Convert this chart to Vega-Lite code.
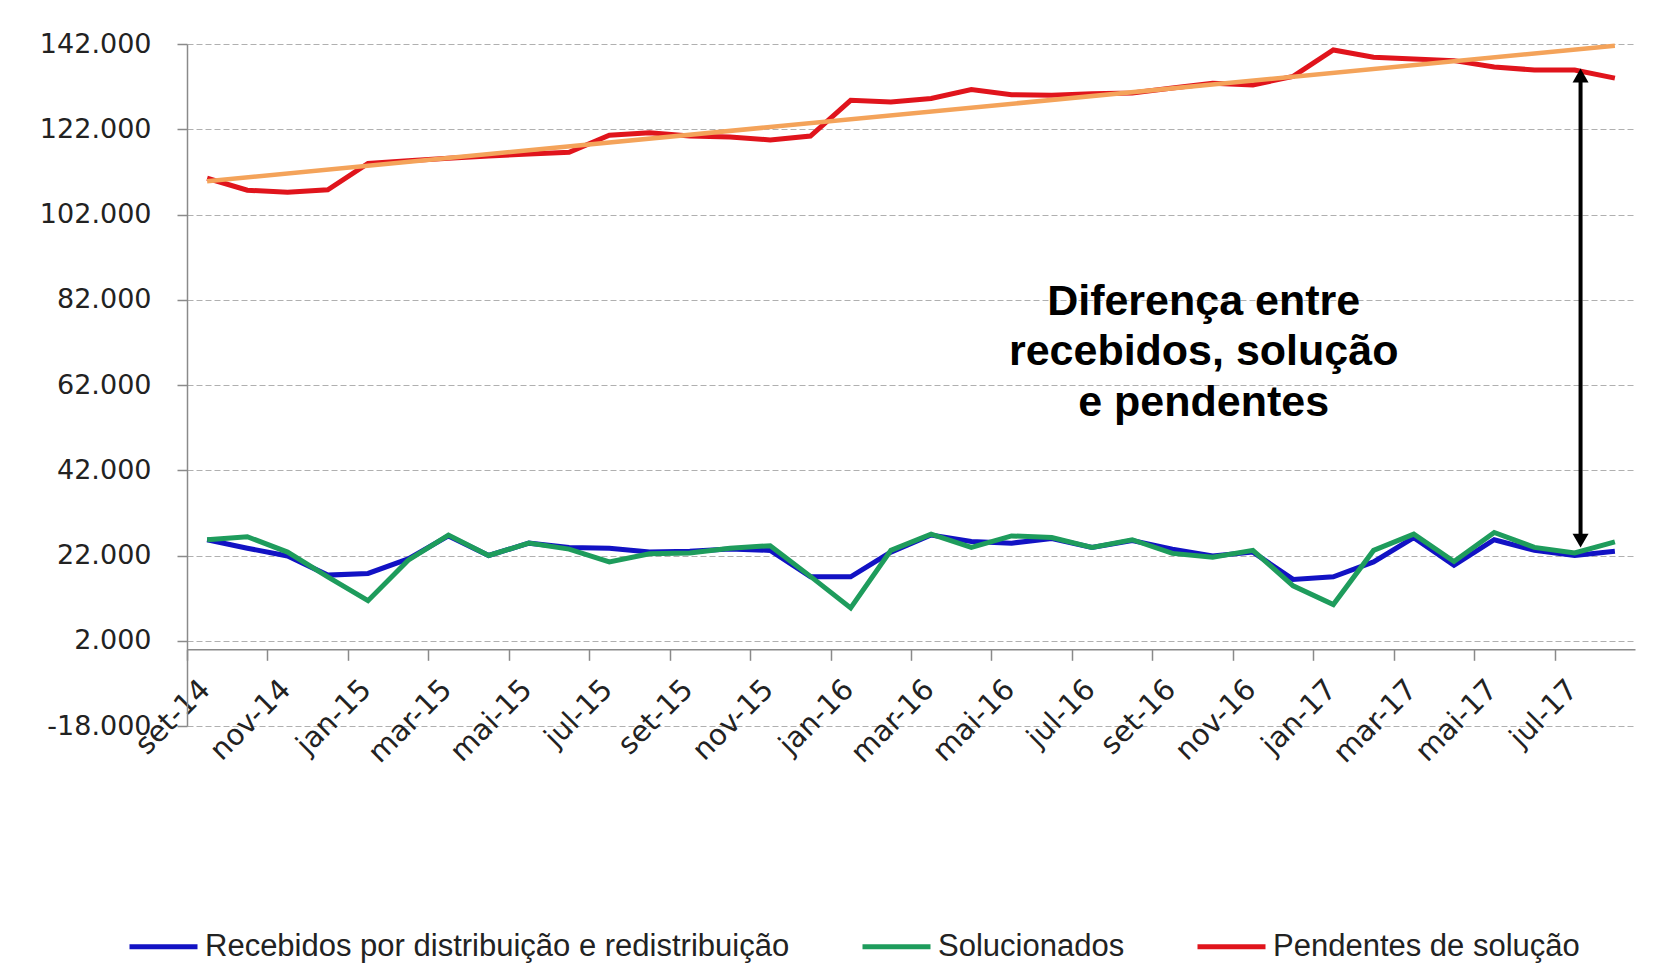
{
  "$schema": "https://vega.github.io/schema/vega-lite/v6.json",
  "width": 1448,
  "height": 682,
  "autosize": {"type": "none"},
  "padding": {"left": 187, "top": 44, "right": 20, "bottom": 252},
  "background": "white",
  "config": {"view": {"stroke": null}},
  "datasets": {
    "series": [
      {"month": "set-14", "serie": "Recebidos por distribuição e redistribuição", "value": 25700},
      {"month": "out-14", "serie": "Recebidos por distribuição e redistribuição", "value": 23700},
      {"month": "nov-14", "serie": "Recebidos por distribuição e redistribuição", "value": 21900},
      {"month": "dez-14", "serie": "Recebidos por distribuição e redistribuição", "value": 17400},
      {"month": "jan-15", "serie": "Recebidos por distribuição e redistribuição", "value": 17800},
      {"month": "fev-15", "serie": "Recebidos por distribuição e redistribuição", "value": 21200},
      {"month": "mar-15", "serie": "Recebidos por distribuição e redistribuição", "value": 26600},
      {"month": "abr-15", "serie": "Recebidos por distribuição e redistribuição", "value": 22000},
      {"month": "mai-15", "serie": "Recebidos por distribuição e redistribuição", "value": 24900},
      {"month": "jun-15", "serie": "Recebidos por distribuição e redistribuição", "value": 23900},
      {"month": "jul-15", "serie": "Recebidos por distribuição e redistribuição", "value": 23700},
      {"month": "ago-15", "serie": "Recebidos por distribuição e redistribuição", "value": 22800},
      {"month": "set-15", "serie": "Recebidos por distribuição e redistribuição", "value": 23000},
      {"month": "out-15", "serie": "Recebidos por distribuição e redistribuição", "value": 23500},
      {"month": "nov-15", "serie": "Recebidos por distribuição e redistribuição", "value": 23200},
      {"month": "dez-15", "serie": "Recebidos por distribuição e redistribuição", "value": 17000},
      {"month": "jan-16", "serie": "Recebidos por distribuição e redistribuição", "value": 17000},
      {"month": "fev-16", "serie": "Recebidos por distribuição e redistribuição", "value": 22800},
      {"month": "mar-16", "serie": "Recebidos por distribuição e redistribuição", "value": 26800},
      {"month": "abr-16", "serie": "Recebidos por distribuição e redistribuição", "value": 25300},
      {"month": "mai-16", "serie": "Recebidos por distribuição e redistribuição", "value": 24900},
      {"month": "jun-16", "serie": "Recebidos por distribuição e redistribuição", "value": 26000},
      {"month": "jul-16", "serie": "Recebidos por distribuição e redistribuição", "value": 23900},
      {"month": "ago-16", "serie": "Recebidos por distribuição e redistribuição", "value": 25500},
      {"month": "set-16", "serie": "Recebidos por distribuição e redistribuição", "value": 23500},
      {"month": "out-16", "serie": "Recebidos por distribuição e redistribuição", "value": 21900},
      {"month": "nov-16", "serie": "Recebidos por distribuição e redistribuição", "value": 22800},
      {"month": "dez-16", "serie": "Recebidos por distribuição e redistribuição", "value": 16400},
      {"month": "jan-17", "serie": "Recebidos por distribuição e redistribuição", "value": 17000},
      {"month": "fev-17", "serie": "Recebidos por distribuição e redistribuição", "value": 20500},
      {"month": "mar-17", "serie": "Recebidos por distribuição e redistribuição", "value": 26200},
      {"month": "abr-17", "serie": "Recebidos por distribuição e redistribuição", "value": 19700},
      {"month": "mai-17", "serie": "Recebidos por distribuição e redistribuição", "value": 25700},
      {"month": "jun-17", "serie": "Recebidos por distribuição e redistribuição", "value": 23200},
      {"month": "jul-17", "serie": "Recebidos por distribuição e redistribuição", "value": 22000},
      {"month": "ago-17", "serie": "Recebidos por distribuição e redistribuição", "value": 23000},
      {"month": "set-14", "serie": "Solucionados", "value": 25700},
      {"month": "out-14", "serie": "Solucionados", "value": 26400},
      {"month": "nov-14", "serie": "Solucionados", "value": 22800},
      {"month": "dez-14", "serie": "Solucionados", "value": 17000},
      {"month": "jan-15", "serie": "Solucionados", "value": 11400},
      {"month": "fev-15", "serie": "Solucionados", "value": 20900},
      {"month": "mar-15", "serie": "Solucionados", "value": 26800},
      {"month": "abr-15", "serie": "Solucionados", "value": 22000},
      {"month": "mai-15", "serie": "Solucionados", "value": 24900},
      {"month": "jun-15", "serie": "Solucionados", "value": 23500},
      {"month": "jul-15", "serie": "Solucionados", "value": 20500},
      {"month": "ago-15", "serie": "Solucionados", "value": 22400},
      {"month": "set-15", "serie": "Solucionados", "value": 22600},
      {"month": "out-15", "serie": "Solucionados", "value": 23700},
      {"month": "nov-15", "serie": "Solucionados", "value": 24300},
      {"month": "dez-15", "serie": "Solucionados", "value": 17100},
      {"month": "jan-16", "serie": "Solucionados", "value": 9700},
      {"month": "fev-16", "serie": "Solucionados", "value": 23200},
      {"month": "mar-16", "serie": "Solucionados", "value": 27000},
      {"month": "abr-16", "serie": "Solucionados", "value": 23900},
      {"month": "mai-16", "serie": "Solucionados", "value": 26600},
      {"month": "jun-16", "serie": "Solucionados", "value": 26200},
      {"month": "jul-16", "serie": "Solucionados", "value": 23900},
      {"month": "ago-16", "serie": "Solucionados", "value": 25700},
      {"month": "set-16", "serie": "Solucionados", "value": 22500},
      {"month": "out-16", "serie": "Solucionados", "value": 21600},
      {"month": "nov-16", "serie": "Solucionados", "value": 23200},
      {"month": "dez-16", "serie": "Solucionados", "value": 14900},
      {"month": "jan-17", "serie": "Solucionados", "value": 10500},
      {"month": "fev-17", "serie": "Solucionados", "value": 23200},
      {"month": "mar-17", "serie": "Solucionados", "value": 27000},
      {"month": "abr-17", "serie": "Solucionados", "value": 20600},
      {"month": "mai-17", "serie": "Solucionados", "value": 27400},
      {"month": "jun-17", "serie": "Solucionados", "value": 23900},
      {"month": "jul-17", "serie": "Solucionados", "value": 22600},
      {"month": "ago-17", "serie": "Solucionados", "value": 25200},
      {"month": "set-14", "serie": "Pendentes de solução", "value": 110500},
      {"month": "out-14", "serie": "Pendentes de solução", "value": 107700},
      {"month": "nov-14", "serie": "Pendentes de solução", "value": 107200},
      {"month": "dez-14", "serie": "Pendentes de solução", "value": 107800},
      {"month": "jan-15", "serie": "Pendentes de solução", "value": 114000},
      {"month": "fev-15", "serie": "Pendentes de solução", "value": 114600},
      {"month": "mar-15", "serie": "Pendentes de solução", "value": 115200},
      {"month": "abr-15", "serie": "Pendentes de solução", "value": 115700},
      {"month": "mai-15", "serie": "Pendentes de solução", "value": 116200},
      {"month": "jun-15", "serie": "Pendentes de solução", "value": 116600},
      {"month": "jul-15", "serie": "Pendentes de solução", "value": 120600},
      {"month": "ago-15", "serie": "Pendentes de solução", "value": 121200},
      {"month": "set-15", "serie": "Pendentes de solução", "value": 120400},
      {"month": "out-15", "serie": "Pendentes de solução", "value": 120200},
      {"month": "nov-15", "serie": "Pendentes de solução", "value": 119500},
      {"month": "dez-15", "serie": "Pendentes de solução", "value": 120400},
      {"month": "jan-16", "serie": "Pendentes de solução", "value": 128800},
      {"month": "fev-16", "serie": "Pendentes de solução", "value": 128400},
      {"month": "mar-16", "serie": "Pendentes de solução", "value": 129200},
      {"month": "abr-16", "serie": "Pendentes de solução", "value": 131300},
      {"month": "mai-16", "serie": "Pendentes de solução", "value": 130100},
      {"month": "jun-16", "serie": "Pendentes de solução", "value": 130000},
      {"month": "jul-16", "serie": "Pendentes de solução", "value": 130300},
      {"month": "ago-16", "serie": "Pendentes de solução", "value": 130500},
      {"month": "set-16", "serie": "Pendentes de solução", "value": 131700},
      {"month": "out-16", "serie": "Pendentes de solução", "value": 132800},
      {"month": "nov-16", "serie": "Pendentes de solução", "value": 132400},
      {"month": "dez-16", "serie": "Pendentes de solução", "value": 134400},
      {"month": "jan-17", "serie": "Pendentes de solução", "value": 140600},
      {"month": "fev-17", "serie": "Pendentes de solução", "value": 138900},
      {"month": "mar-17", "serie": "Pendentes de solução", "value": 138500},
      {"month": "abr-17", "serie": "Pendentes de solução", "value": 138100},
      {"month": "mai-17", "serie": "Pendentes de solução", "value": 136600},
      {"month": "jun-17", "serie": "Pendentes de solução", "value": 135900},
      {"month": "jul-17", "serie": "Pendentes de solução", "value": 135900},
      {"month": "ago-17", "serie": "Pendentes de solução", "value": 134000}
    ],
    "trend": [
      {"month": "set-14", "value": 109800},
      {"month": "ago-17", "value": 141600}
    ],
    "arrow": [
      {"month": "jul-17", "value": 25500, "value2": 134600}
    ],
    "heads": [
      {"month": "jul-17", "value": 134600, "shape": "triangle-up"},
      {"month": "jul-17", "value": 25500, "shape": "triangle-down"}
    ],
    "note": [
      {"month": "out-16", "value": 81500, "label": "Diferença entre"},
      {"month": "out-16", "value": 69800, "label": "recebidos, solução"},
      {"month": "out-16", "value": 57800, "label": "e pendentes"}
    ]
  },
  "encoding": {
    "x": {
      "field": "month",
      "type": "ordinal",
      "scale": {"domain": ["set-14","out-14","nov-14","dez-14","jan-15","fev-15","mar-15","abr-15","mai-15","jun-15","jul-15","ago-15","set-15","out-15","nov-15","dez-15","jan-16","fev-16","mar-16","abr-16","mai-16","jun-16","jul-16","ago-16","set-16","out-16","nov-16","dez-16","jan-17","fev-17","mar-17","abr-17","mai-17","jun-17","jul-17","ago-17"]},
      "axis": {
        "title": null,
        "values": ["set-14","nov-14","jan-15","mar-15","mai-15","jul-15","set-15","nov-15","jan-16","mar-16","mai-16","jul-16","set-16","nov-16","jan-17","mar-17","mai-17","jul-17"],
        "labelAngle": -45,
        "labelAlign": "right",
        "labelBaseline": "middle",
        "labelFont": "DejaVu Sans",
        "labelFontSize": 29,
        "labelColor": "#222222",
        "labelPadding": 24,
        "tickOffset": -20.11,
        "labelOffset": 18,
        "tickSize": 11,
        "tickColor": "#8a8a8a",
        "tickWidth": 1.5,
        "domainColor": "#8a8a8a",
        "domainWidth": 1.5,
        "offset": -76.7,
        "grid": false,
        "labelOverlap": false,
        "labelBound": false,
        "labelFlush": false
      }
    },
    "y": {
      "field": "value",
      "type": "quantitative",
      "scale": {"domain": [-18000, 142000], "nice": false, "zero": false},
      "axis": {
        "title": null,
        "values": [-18000, 2000, 22000, 42000, 62000, 82000, 102000, 122000, 142000],
        "labelExpr": "replace(replace(format(datum.value, ','), ',', '.'), '\u2212', '-')",
        "labelFont": "DejaVu Sans",
        "labelFontSize": 27,
        "labelColor": "#222222",
        "labelPadding": 26,
        "tickSize": 10,
        "tickColor": "#8a8a8a",
        "tickWidth": 1.5,
        "domainColor": "#8a8a8a",
        "domainWidth": 1.5,
        "grid": true,
        "gridDash": [6, 3],
        "gridColor": "#b0b0b0",
        "gridWidth": 1
      }
    }
  },
  "layer": [
    {
      "data": {"name": "series"},
      "mark": {"type": "line", "strokeWidth": 5},
      "encoding": {
        "color": {
          "field": "serie",
          "type": "nominal",
          "scale": {
            "domain": ["Recebidos por distribuição e redistribuição", "Solucionados", "Pendentes de solução"],
            "range": ["#1212C4", "#1E9C5C", "#E0141C"]
          },
          "legend": {
            "title": null,
            "orient": "none",
            "legendX": -60,
            "legendY": 866,
            "direction": "horizontal",
            "symbolType": "stroke",
            "symbolSize": 4624,
            "symbolStrokeWidth": 5,
            "labelFont": "Liberation Sans",
            "labelFontSize": 31,
            "labelColor": "#222222",
            "labelOffset": 5,
            "columnPadding": 62,
            "padding": 0,
            "labelLimit": 0
          }
        }
      }
    },
    {
      "data": {"name": "trend"},
      "mark": {"type": "line", "strokeWidth": 4.5, "color": "#F4A35A"}
    },
    {
      "data": {"name": "arrow"},
      "mark": {"type": "rule", "strokeWidth": 4, "color": "black"},
      "encoding": {"y2": {"field": "value2"}, "xOffset": {"value": 26}}
    },
    {
      "data": {"name": "heads"},
      "mark": {"type": "point", "filled": true, "color": "black", "opacity": 1, "size": 256},
      "encoding": {"shape": {"field": "shape", "type": "nominal", "scale": null}, "xOffset": {"value": 26}}
    },
    {
      "data": {"name": "note"},
      "mark": {"type": "text", "font": "Liberation Sans", "fontWeight": "bold", "fontSize": 43, "dx": -9, "align": "center", "baseline": "middle", "color": "black"},
      "encoding": {"text": {"field": "label"}}
    }
  ]
}
